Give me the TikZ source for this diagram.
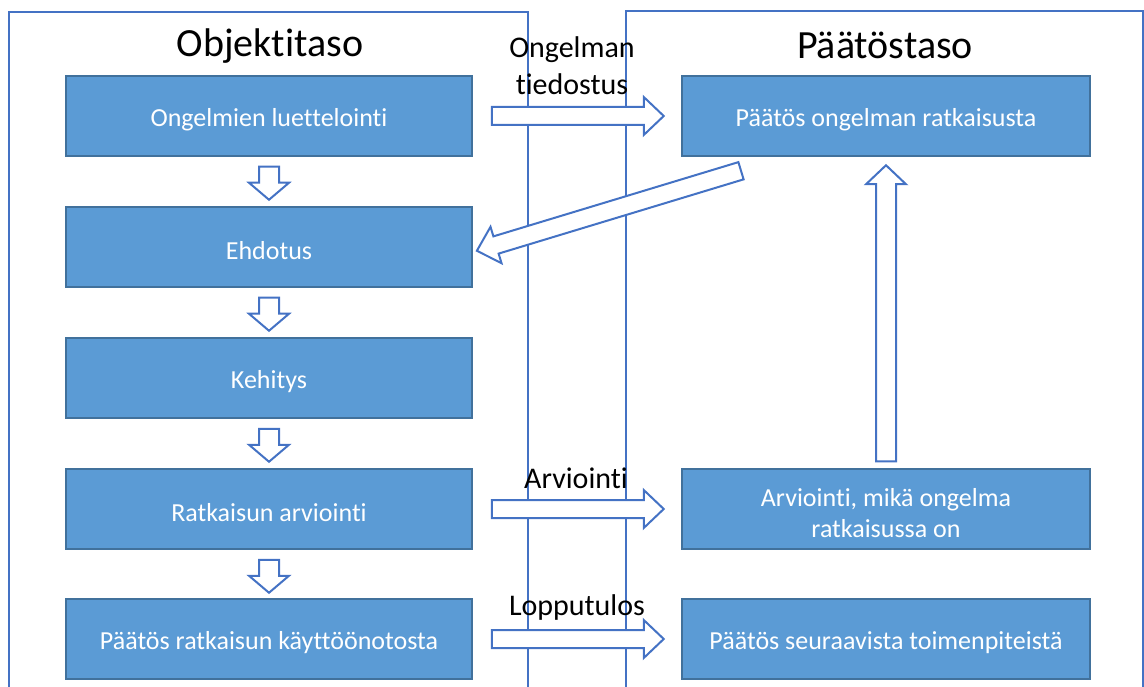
\documentclass[tikz,border=0pt]{standalone}
\usepackage{fontspec}
\setmainfont[RawFeature={-liga;-clig}]{Carlito}
\usetikzlibrary{calc}
\definecolor{boxfill}{HTML}{5B9BD5}
\definecolor{boxline}{HTML}{41719C}
\definecolor{arrowline}{HTML}{4472C4}
\tikzset{
  box/.style={draw=boxline, line width=1.5pt, fill=boxfill, minimum width=406pt,
    minimum height=80pt, inner sep=0pt},
  boxtext/.style={text=white, font=\fontsize{26}{31}\selectfont,
    align=center, inner sep=0pt, yshift=-4pt},
  frame/.style={draw=arrowline, line width=1.5pt},
  title/.style={font=\fontsize{40}{48}\selectfont, inner sep=0pt},
  lbl/.style={font=\fontsize{30}{37}\selectfont, align=center, inner sep=0pt},
  barrowstyle/.style={draw=arrowline, line width=2pt, fill=white, line join=miter},
  pics/barrow/.style n args={4}{code={
    \draw[barrowstyle] (0,-#2) -- ({#1-#4},-#2) -- ({#1-#4},-#3) -- (#1,0)
      -- ({#1-#4},#3) -- ({#1-#4},#2) -- (0,#2) -- cycle;}}
}
\begin{document}
\begin{tikzpicture}[x=1pt,y=-1pt]
\useasboundingbox (0,0) rectangle (1144,687);
\clip (0,0) rectangle (1144,687);
% frames
\draw[frame] (9,720) -- (9,12) -- (528,12) -- (528,720);
\draw[frame] (626,720) -- (626,11) -- (1143,11) -- (1143,720);
% titles
\node[title] (t1) at (270,46) {Objektitaso};
\node[title] (t2) at (885,45) {Päätöstaso};
% left boxes
\node[box, label={[boxtext]center:Ongelmien luettelointi}] (o1) at (269,116) {};
\node[box, label={[boxtext]center:Ehdotus}] (o2) at (269,247) {};
\node[box, label={[boxtext]center:Kehitys}] (o3) at (269,378) {};
\node[box, label={[boxtext]center:Ratkaisun arviointi}] (o4) at (269,509) {};
\node[box, label={[boxtext]center:Päätös ratkaisun käyttöönotosta}] (o5) at (269,639) {};
% right boxes
\node[box, minimum width=408pt, label={[boxtext]center:Päätös ongelman ratkaisusta}] (r1) at (886,116) {};
\node[box, minimum width=408pt, label={[boxtext]center:{Arviointi, mikä ongelma\\ratkaisussa on}}] (r2) at (886,509) {};
\node[box, minimum width=408pt, label={[boxtext]center:Päätös seuraavista toimenpiteistä}] (r3) at (886,639) {};
% down arrows
\pic[rotate=-90] at ($(o1.south)+(0,10)$) {barrow={33}{10}{20}{17}};
\pic[rotate=-90] at ($(o2.south)+(0,10)$) {barrow={33}{10}{20}{17}};
\pic[rotate=-90] at ($(o3.south)+(0,10)$) {barrow={33}{10}{20}{17}};
\pic[rotate=-90] at ($(o4.south)+(0,10)$) {barrow={33}{10}{20}{17}};
% right arrows
\pic at ($(o1.east)+(19,0)$) {barrow={172}{9}{19}{20}};
\pic at ($(o4.east)+(19,0)$) {barrow={172}{9}{19}{20}};
\pic at ($(o5.east)+(19,0)$) {barrow={172}{9}{19}{20}};
% up arrow
\pic[rotate=90] at ($(r2.north)+(0,-7)$) {barrow={296}{10}{20}{19}};
% diagonal arrow
\pic[rotate=196.86] at ($(r1.south)+(-145,14)$) {barrow={276}{9}{19}{20}};
% labels
\node[lbl] (l1) at (572,66) {Ongelman\\tiedostus};
\node[lbl] (l2) at (576,478) {Arviointi};
\node[lbl] (l3) at (577,607) {Lopputulos};
\end{tikzpicture}
\end{document}
